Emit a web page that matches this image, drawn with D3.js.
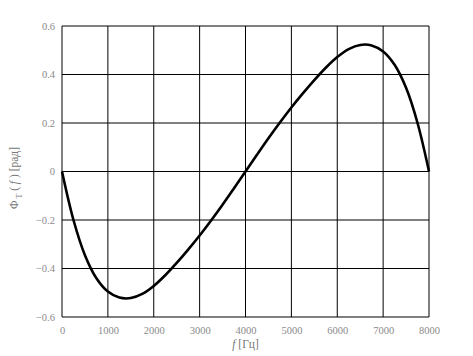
<!DOCTYPE html>
<html>
<head>
<meta charset="utf-8">
<script src="https://cdn.jsdelivr.net/npm/d3@7"></script>
<style>
  body { margin: 0; background: #fff; }
  text { font-family: "Liberation Serif", "DejaVu Serif", serif; }
</style>
</head>
<body>
<div id="graph"></div>
<script>
// data
const freqs = [0, 250, 500, 750, 1000, 1250, 1500, 1750, 2000, 2250, 2500, 2750, 3000, 3250, 3500, 3750, 4000,
    4250, 4500, 4750, 5000, 5250, 5500, 5750, 6000, 6250, 6500, 6750, 7000, 7250, 7500, 7750, 8000];
const phase = [0, -0.2, -0.345, -0.44, -0.495, -0.52, -0.522, -0.505, -0.472, -0.428, -0.377, -0.322, -0.264, -0.202, -0.137, -0.069, 0,
    0.069, 0.137, 0.202, 0.264, 0.322, 0.377, 0.428, 0.472, 0.505, 0.522, 0.52, 0.495, 0.44, 0.345, 0.2, 0];
const xTicks = [0, 1000, 2000, 3000, 4000, 5000, 6000, 7000, 8000];
const yTicks = [-0.6, -0.4, -0.2, 0, 0.2, 0.4, 0.6];

const W = 473, H = 356;
const margin = { top: 26, right: 44, bottom: 39, left: 62 };
const width = W - margin.left - margin.right,
    height = H - margin.top - margin.bottom;

let svg = d3.select("#graph")
    .append("svg")
    .attr("width", W)
    .attr("height", H);

let g = svg.append("g")
    .attr("transform", "translate(" + margin.left + "," + margin.top + ")");

let x = d3.scaleLinear().domain([0, 8000]).range([0, width]);
let y = d3.scaleLinear().domain([-0.6, 0.6]).range([height, 0]);

// grid
g.selectAll(".vgrid")
    .data(xTicks)
    .enter().append("line")
    .attr("x1", d => x(d)).attr("x2", d => x(d))
    .attr("y1", 0).attr("y2", height)
    .style("stroke", "#000").style("stroke-width", 1);

g.selectAll(".hgrid")
    .data(yTicks)
    .enter().append("line")
    .attr("x1", 0).attr("x2", width)
    .attr("y1", d => y(d)).attr("y2", d => y(d))
    .style("stroke", "#000").style("stroke-width", 1);

// axes (labels only)
let xAxis = g.append("g")
    .attr("transform", "translate(0," + height + ")")
    .call(d3.axisBottom(x).tickValues(xTicks).tickSize(0).tickPadding(10).tickFormat(d3.format("d")));
let yAxis = g.append("g")
    .call(d3.axisLeft(y).tickValues(yTicks).tickSize(0).tickPadding(7).tickFormat(d => d === 0 ? "0" : d3.format(".1f")(d)));

[xAxis, yAxis].forEach(a => {
    a.select(".domain").remove();
    a.selectAll("text")
        .style("font-family", "'Liberation Serif', serif")
        .style("font-size", "10.5px")
        .style("fill", "#8a8a8a");
});

// curve
let line = d3.line()
    .x((d, i) => x(freqs[i]))
    .y(d => y(d))
    .curve(d3.curveCatmullRom);

g.append("path")
    .datum(phase)
    .attr("d", line)
    .style("fill", "none")
    .style("stroke", "#000")
    .style("stroke-width", 2.6);

// axis titles
let xt = svg.append("text")
    .attr("x", margin.left + width / 2)
    .attr("y", 348)
    .attr("text-anchor", "middle")
    .style("font-size", "11.5px")
    .style("fill", "#777");
xt.append("tspan").style("font-style", "italic").text("f");
xt.append("tspan").text(" [Гц]");

let yt = svg.append("text")
    .attr("transform", "translate(18," + 178 + ") rotate(-90)")
    .attr("text-anchor", "middle")
    .style("font-size", "11.5px")
    .style("fill", "#777");
yt.append("tspan").text("Φ");
yt.append("tspan").attr("dy", 4).style("font-size", "8px").text(" T");
yt.append("tspan").attr("dy", -4).text(" ( ");
yt.append("tspan").style("font-style", "italic").text("f");
yt.append("tspan").text(" ) [рад]");
</script>
</body>
</html>
